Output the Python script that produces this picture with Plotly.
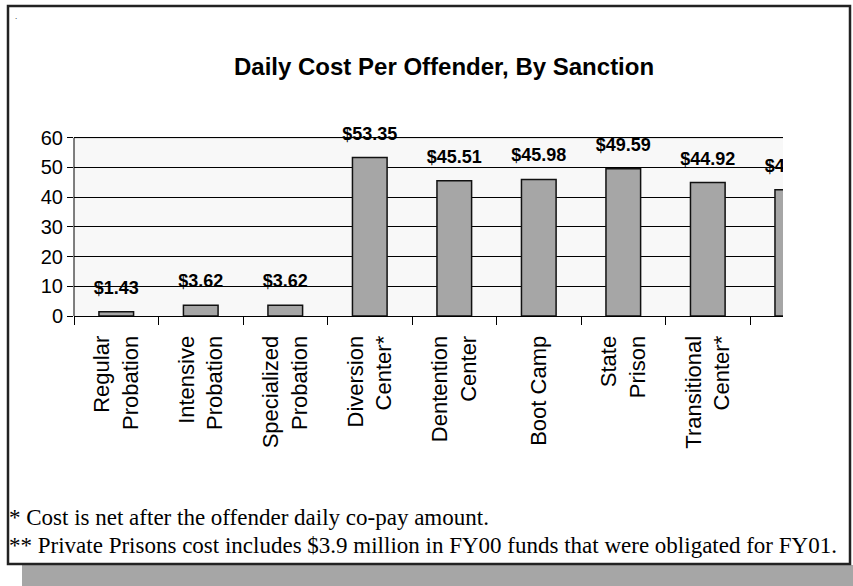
import plotly.graph_objects as go

categories = ["Regular<br>Probation", "Intensive<br>Probation", "Specialized<br>Probation",
              "Diversion<br>Center*", "Dentention<br>Center", "Boot Camp", "State<br>Prison",
              "Transitional<br>Center*", "Private<br>Prisons**"]
values = [1.43, 3.62, 3.62, 53.35, 45.51, 45.98, 49.59, 44.92, 42.47]
value_labels = ["$%.2f" % v for v in values]
y_ticks = [0, 10, 20, 30, 40, 50, 60]

title_text = "Daily Cost Per Offender, By Sanction"
note1 = "* Cost is net after the offender daily co-pay amount."
note2 = "** Private Prisons cost includes $3.9 million in FY00 funds that were obligated for FY01."

W, H = 853, 586
L, R, T, B = 74, 70, 114, 270
PW, PH = W - L - R, H - T - B


def px(x):
    return (x - L) / PW


def py(y):
    return (H - B - y) / PH


SANS = "Arial, Liberation Sans, sans-serif"
SERIF = "Garamond, Liberation Serif, serif"

fig = go.Figure()
fig.add_trace(go.Bar(
    x=categories, y=values, width=0.41,
    marker=dict(color="#a6a6a6", line=dict(color="#111111", width=1.5)),
    hoverinfo="skip",
))
fig.add_trace(go.Scatter(
    x=categories, y=values, mode="markers+text", text=value_labels,
    textposition="top center", cliponaxis=True,
    marker=dict(size=20, opacity=0),
    textfont=dict(family=SANS, size=18, color="#000000", weight="bold"),
    hoverinfo="skip",
))

shapes = []
shapes.append(dict(type="rect", xref="paper", yref="y", x0=0, x1=1, y0=0, y1=60,
                   fillcolor="#f8f8f8", line=dict(width=0), layer="below"))
shapes.append(dict(type="line", xref="paper", yref="y", x0=0, x1=1, y0=60, y1=60,
                   line=dict(color="#9a9a9a", width=1.2), layer="between"))
shapes.append(dict(type="line", xref="paper", yref="y", x0=0, x1=0, y0=0, y1=60,
                   line=dict(color="#000000", width=1), layer="above"))
shapes.append(dict(type="rect", xref="paper", yref="paper", x0=px(22), x1=px(855),
                   y0=py(565), y1=py(588), fillcolor="#a6a6a6",
                   line=dict(width=0), layer="above"))
shapes.append(dict(type="rect", xref="paper", yref="paper", x0=px(8), x1=px(850),
                   y0=py(564), y1=py(6), fillcolor="rgba(0,0,0,0)",
                   line=dict(color="#222222", width=2.5), layer="above"))

annotations = [
    dict(text=title_text, x=px(444), y=py(66), xref="paper", yref="paper",
         showarrow=False, xanchor="center", yanchor="middle",
         font=dict(family=SANS, size=24, color="#000000", weight="bold")),
    dict(text=note1, x=px(7), y=py(517), xref="paper", yref="paper",
         showarrow=False, xanchor="left", yanchor="middle",
         font=dict(family=SERIF, size=23, color="#000000")),
    dict(text=note2, x=px(7), y=py(545), xref="paper", yref="paper",
         showarrow=False, xanchor="left", yanchor="middle",
         font=dict(family=SERIF, size=23, color="#000000")),
    dict(text=".", x=px(16), y=py(16), xref="paper", yref="paper",
         showarrow=False, xanchor="center", yanchor="middle",
         font=dict(family=SANS, size=8, color="#000000")),
]

fig.update_layout(
    width=W, height=H, autosize=False,
    margin=dict(l=L, r=R, t=T, b=B, pad=0),
    paper_bgcolor="#ffffff", plot_bgcolor="rgba(0,0,0,0)",
    showlegend=False, bargap=0.59,
    shapes=shapes, annotations=annotations,
    font=dict(family=SANS, color="#000000"),
)
fig.update_xaxes(
    type="category", range=[-0.5, 7.89], automargin=False,
    showline=True, linecolor="#000000", linewidth=1,
    ticks="outside", ticklen=8, tickcolor="#000000", tickson="boundaries",
    tickangle=-90, tickfont=dict(family=SANS, size=22, color="#000000"),
    ticklabelstandoff=10, showgrid=False, zeroline=False,
)
fig.update_yaxes(
    range=[0, 68], automargin=False, tickvals=y_ticks,
    showgrid=True, gridcolor="#000000", gridwidth=1,
    ticks="outside", ticklen=6, tickcolor="#000000",
    tickfont=dict(family=SANS, size=20, color="#000000"),
    showline=False, zeroline=False,
)

fig.write_html("out.html", config={"displayModeBar": False},
               post_script="document.body.style.margin='0px';")
